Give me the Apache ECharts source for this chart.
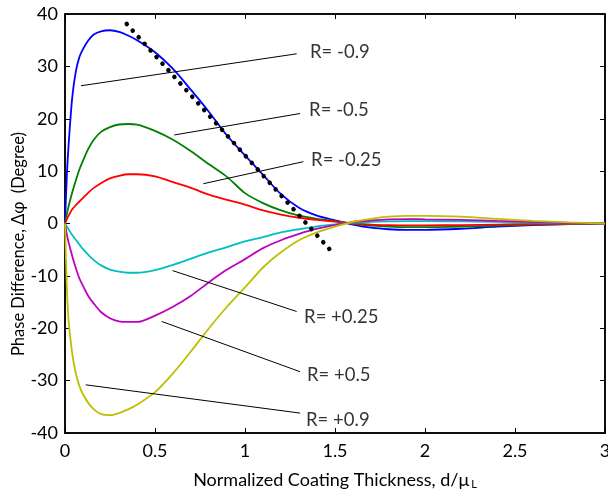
<!DOCTYPE html>
<html>
<head>
<meta charset="utf-8">
<script src="https://cdn.jsdelivr.net/npm/echarts@6/dist/echarts.min.js"></script>
<style>
  html, body { margin: 0; padding: 0; background: #fff; }
  #chart { width: 608px; height: 498px; }
</style>
</head>
<body>
<div id="chart"></div>
<script>
// Normalized coating thickness d/mu_L (shared sampling for every curve)
var thickness = [0, 0.01, 0.02, 0.04, 0.06, 0.08, 0.1, 0.13, 0.16, 0.2, 0.25, 0.3, 0.35, 0.4,
  0.5, 0.6, 0.7, 0.8, 0.9, 1.0, 1.1, 1.2, 1.3, 1.4, 1.5, 1.6, 1.7, 1.8, 1.9, 2.0,
  2.2, 2.4, 2.6, 2.8, 3.0];

// Phase difference (degree) for each reflection coefficient R
var phaseRm090 = [0, 9, 15, 24, 29, 31.8, 33.3, 35.0, 36.1, 36.7, 36.9, 36.6, 35.9, 35.0,
  32.7, 29.5, 25.5, 21.3, 16.8, 13.0, 9.3, 5.6, 3.0, 1.5, 0.6, -0.2, -0.8, -1.1, -1.2, -1.2,
  -1.0, -0.6, -0.3, -0.1, 0];
var phaseRm050 = [0, 1.8, 3.3, 5.9, 8.2, 10.3, 12.0, 14.3, 16.0, 17.5, 18.4, 18.9, 19.0, 18.9,
  17.7, 16.0, 13.8, 11.3, 8.9, 5.8, 3.9, 2.5, 1.5, 0.9, 0.45, -0.05, -0.4, -0.6, -0.7, -0.7,
  -0.6, -0.4, -0.2, -0.1, 0];
var phaseRm025 = [0, 0.8, 1.5, 2.7, 3.5, 4.2, 4.9, 5.9, 6.8, 7.7, 8.6, 9.1, 9.4, 9.4,
  9.0, 7.9, 6.8, 5.5, 4.5, 3.6, 2.5, 1.7, 1.1, 0.7, 0.35, 0.0, -0.2, -0.3, -0.35, -0.35,
  -0.3, -0.2, -0.1, -0.05, 0];
var phaseRp025 = [0, -0.6, -1.1, -2.2, -3.1, -4.0, -4.9, -6.0, -7.0, -8.0, -8.8, -9.2, -9.4, -9.4,
  -8.9, -7.9, -6.7, -5.5, -4.5, -3.4, -2.6, -1.7, -1.1, -0.55, -0.15, 0.15, 0.3, 0.4, 0.45, 0.45,
  0.4, 0.3, 0.15, 0.05, 0];
var phaseRp050 = [0, -2.1, -3.6, -6.2, -8.5, -10.5, -11.9, -13.9, -15.3, -16.9, -18.1, -18.7, -18.8, -18.8,
  -17.6, -15.9, -13.8, -11.2, -8.8, -6.8, -4.7, -3.2, -2.0, -1.0, -0.3, 0.3, 0.6, 0.8, 0.85, 0.8,
  0.7, 0.5, 0.3, 0.1, 0];
var phaseRp090 = [0, -12, -18.5, -24.8, -28.6, -31.0, -32.6, -34.3, -35.5, -36.4, -36.6, -36.2, -35.5, -34.6,
  -32.2, -28.6, -24.4, -20.0, -15.9, -12.2, -8.4, -5.5, -3.2, -1.7, -0.6, 0.3, 0.9, 1.3, 1.45, 1.45,
  1.3, 0.9, 0.5, 0.2, 0];

// Linear asymptote (dotted) end points [thickness, phase]
var asymptoteX = [0.343, 1.472];
var asymptoteY = [38.1, -5.0];

// Curve annotations: label text, leader start, leader end, text anchor (data units)
var annoText = ['R= -0.9', 'R= -0.5', 'R= -0.25', 'R= +0.25', 'R= +0.5', 'R= +0.9'];
var leaderFrom = [[0.089, 26.3], [0.607, 16.9], [0.769, 7.6], [0.598, -9.0], [0.537, -18.7], [0.115, -30.8]];
var leaderTo = [[1.287, 32.4], [1.306, 21.0], [1.324, 11.8], [1.287, -16.8], [1.306, -28.3], [1.306, -36.2]];
var annoAt = [[1.361, 32.7], [1.356, 21.7], [1.367, 12.1], [1.328, -17.9], [1.344, -28.9], [1.339, -37.5]];

var xTicks = ['0', '0.5', '1', '1.5', '2', '2.5', '3'];
var yTitle = 'Phase Difference, Δφ  (Degree)';

var FONT = 'Lato, "Open Sans", sans-serif';

function pairs(ys) {
  return thickness.map(function (x, i) { return [x, ys[i]]; });
}

var curves = [
  { name: 'R=-0.9', data: phaseRm090, color: '#0000ff' },
  { name: 'R=-0.5', data: phaseRm050, color: '#008000' },
  { name: 'R=-0.25', data: phaseRm025, color: '#ff0000' },
  { name: 'R=+0.25', data: phaseRp025, color: '#00bfbf' },
  { name: 'R=+0.5', data: phaseRp050, color: '#bf00bf' },
  { name: 'R=+0.9', data: phaseRp090, color: '#bfbf00' }
];

var series = curves.map(function (c) {
  return {
    name: c.name, type: 'line', data: pairs(c.data), showSymbol: false, smooth: 0.3,
    lineStyle: { color: c.color, width: 1.8 }, z: 3, silent: true
  };
});

series.push({
  name: 'asymptote', type: 'line', showSymbol: false, silent: true, z: 4,
  data: [[asymptoteX[0], asymptoteY[0]], [asymptoteX[1], asymptoteY[1]]],
  lineStyle: { color: '#000', width: 4.5, type: [0.1, 8.8], cap: 'round' }
});

annoText.forEach(function (t, i) {
  series.push({
    name: 'leader' + i, type: 'line', showSymbol: false, silent: true, z: 5,
    data: [leaderFrom[i], leaderTo[i]],
    lineStyle: { color: '#000', width: 1 }
  });
  series.push({
    name: 'label' + i, type: 'scatter', silent: true, symbolSize: 0, z: 6,
    data: [annoAt[i]],
    label: {
      show: true, position: 'inside', align: 'left', verticalAlign: 'middle',
      formatter: t, color: '#000', fontSize: 18.5, fontFamily: FONT
    }
  });
});

var chart = echarts.init(document.getElementById('chart'), null, { renderer: 'canvas' });
chart.setOption({
  animation: false,
  backgroundColor: '#fff',
  grid: { left: 65, right: 3, top: 14, bottom: 65, containLabel: false, outerBoundsMode: 'none',
    show: true, borderColor: '#000', borderWidth: 1.5 },
  // vertical title of the phase axis
  graphic: [{
    type: 'text', x: 19, y: 244, rotation: Math.PI / 2, silent: true,
    style: { text: yTitle, fill: '#000', font: '16.5px ' + FONT, align: 'center', verticalAlign: 'middle' }
  }],
  xAxis: [{
    type: 'value', min: 0, max: 3, interval: 0.5,
    name: 'Normalized Coating Thickness, d/μ{s|L}',
    nameLocation: 'middle', nameGap: 38,
    nameTextStyle: { color: '#000', fontSize: 18, fontFamily: FONT,
      rich: { s: { fontSize: 11, fontFamily: FONT, color: '#000', verticalAlign: 'bottom', padding: [8, 0, 0, 2] } } },
    axisLine: { show: true, onZero: false, lineStyle: { color: '#000', width: 1.5 } },
    axisTick: { show: true, inside: true, length: 5, lineStyle: { color: '#000' } },
    axisLabel: { color: '#000', fontSize: 18, fontFamily: FONT, margin: 9,
      formatter: function (v) { return xTicks[Math.round(v / 0.5)]; } },
    splitLine: { show: false }
  }, {
    type: 'value', position: 'top', min: 0, max: 3, interval: 0.5,
    axisLine: { show: true, onZero: false, lineStyle: { color: '#000', width: 1.5 } },
    axisTick: { show: true, inside: true, length: 5, lineStyle: { color: '#000' } },
    axisLabel: { show: false }, splitLine: { show: false }
  }],
  yAxis: [{
    type: 'value', min: -40, max: 40, interval: 10,
    axisLine: { show: true, onZero: false, lineStyle: { color: '#000', width: 1.5 } },
    axisTick: { show: true, inside: true, length: 5, lineStyle: { color: '#000' } },
    axisLabel: { color: '#000', fontSize: 18, fontFamily: FONT, margin: 7 },
    splitLine: { show: false }
  }, {
    type: 'value', position: 'right', min: -40, max: 40, interval: 10,
    axisLine: { show: true, onZero: false, lineStyle: { color: '#000', width: 1.5 } },
    axisTick: { show: true, inside: true, length: 5, lineStyle: { color: '#000' } },
    axisLabel: { show: false }, splitLine: { show: false }
  }],
  series: series
});
</script>
</body>
</html>
